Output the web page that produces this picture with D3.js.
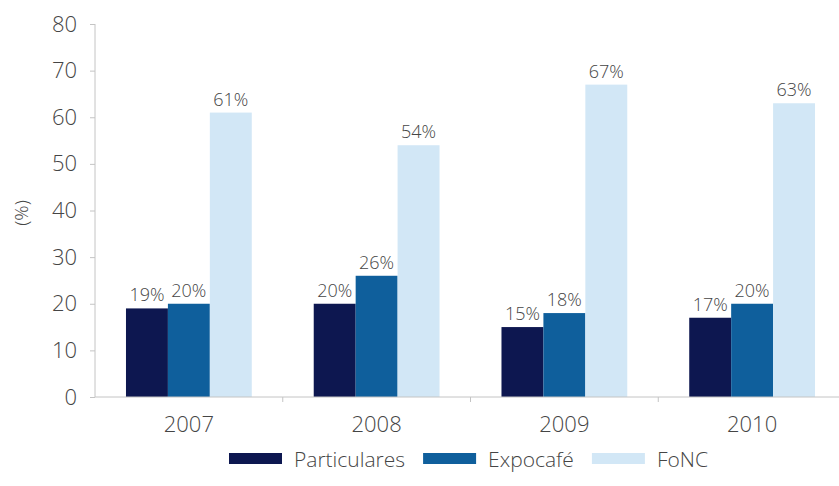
<!DOCTYPE html>
<html>
<head>
<meta charset="utf-8">
<script src="https://cdn.jsdelivr.net/npm/d3@7"></script>
<style>
  html, body { margin: 0; padding: 0; background: #fff; }
  svg { display: block; font-family: "Open Sans", "DejaVu Sans", sans-serif; font-weight: 300; }
</style>
</head>
<body>
<svg id="chart" width="839" height="486"></svg>
<script>
// Share of each source, per year (%)
const years = ["2007", "2008", "2009", "2010"];
const seriesNames = ["Particulares", "Expocafé", "FoNC"];
const particulares = [19, 20, 15, 17];
const expocafe = [20, 26, 18, 20];
const fonc = [61, 54, 67, 63];
const yTicks = [0, 10, 20, 30, 40, 50, 60, 70, 80];

const seriesValues = [particulares, expocafe, fonc];
const colors = ["#0d1750", "#0f5f9c", "#d2e7f6"];

const svg = d3.select("#chart");
const textColor = "#454545";
const axisColor = "#c4c4c4";
const fontStack = '"Open Sans", "DejaVu Sans", sans-serif';

const x0 = d3.scaleBand().domain(years).range([95, 846]).paddingInner(0.33).paddingOuter(0.165);
const x1 = d3.scaleBand().domain(seriesNames).range([0, x0.bandwidth()]);
const y = d3.scaleLinear().domain([0, 80]).range([397, 24]);

// y axis
const yAxis = svg.append("g").attr("transform", "translate(95,0)")
  .call(d3.axisLeft(y).tickValues(yTicks).tickSize(5).tickPadding(13))
  .attr("font-family", fontStack).attr("font-size", 22).attr("font-weight", 300);
yAxis.select(".domain").attr("stroke", axisColor).attr("d", `M0,${y(80)}V${y(0)}`);
yAxis.selectAll(".tick line").attr("stroke", axisColor);
yAxis.selectAll(".tick text").attr("fill", textColor);

// bars
const rows = years.map((yr, i) => ({ year: yr, vals: seriesNames.map((s, j) => ({ s, v: seriesValues[j][i], c: colors[j] })) }));
const groups = svg.append("g").selectAll("g").data(rows).join("g")
  .attr("transform", d => `translate(${x0(d.year)},0)`);
groups.selectAll("rect").data(d => d.vals).join("rect")
  .attr("x", d => x1(d.s))
  .attr("width", x1.bandwidth())
  .attr("y", d => y(d.v))
  .attr("height", d => y(0) - y(d.v))
  .attr("fill", d => d.c);
groups.selectAll("text").data(d => d.vals).join("text")
  .attr("x", d => x1(d.s) + x1.bandwidth() / 2)
  .attr("y", d => y(d.v) - 7)
  .attr("text-anchor", "middle")
  .attr("fill", textColor)
  .style("font-size", "18px")
  .text(d => d.v + "%");

// x axis with ticks at group boundaries
const xAxisG = svg.append("g");
xAxisG.append("line").attr("x1", 95).attr("x2", 839).attr("y1", y(0)).attr("y2", y(0))
  .attr("stroke", axisColor);
const step = x0.step();
const bounds = years.map((yr, i) => 95 + i * step);
xAxisG.selectAll("line.tk").data(bounds.slice(1)).join("line").attr("class", "tk")
  .attr("x1", d => d).attr("x2", d => d).attr("y1", y(0)).attr("y2", y(0) + 5)
  .attr("stroke", axisColor);
xAxisG.selectAll("text").data(years).join("text")
  .attr("x", d => x0(d) + x0.bandwidth() / 2)
  .attr("y", 432)
  .attr("text-anchor", "middle")
  .attr("fill", textColor)
  .style("font-size", "22px")
  .text(d => d);

// y axis title
svg.append("text")
  .attr("transform", "translate(28,213) rotate(-90)")
  .attr("text-anchor", "middle")
  .attr("fill", textColor)
  .style("font-size", "19px")
  .text("(%)");

// legend
const legend = svg.append("g");
let lx = 229;
seriesNames.forEach((name, i) => {
  legend.append("rect").attr("x", lx).attr("y", 453).attr("width", 53).attr("height", 11).attr("fill", colors[i]);
  const t = legend.append("text").attr("x", lx + 65).attr("y", 467)
    .attr("fill", textColor).style("font-size", "21px").text(name);
  lx += 65 + t.node().getComputedTextLength() + 18;
});
</script>
</body>
</html>
